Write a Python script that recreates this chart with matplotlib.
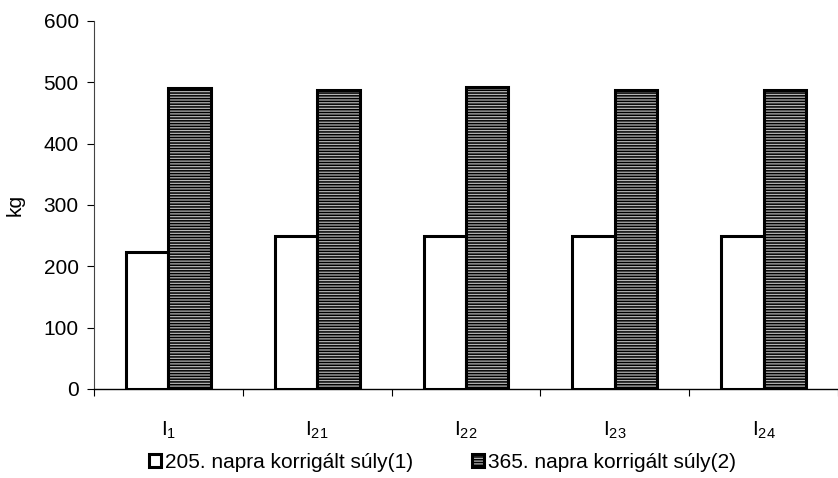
import matplotlib
matplotlib.use('Agg')
import matplotlib.pyplot as plt
import numpy as np

plt.rcParams.update({
    'font.family': ['Liberation Sans', 'DejaVu Sans'],
    'font.size': 15,
    'mathtext.fontset': 'custom',
    'mathtext.rm': 'Liberation Sans',
    'mathtext.it': 'Liberation Sans',
    'mathtext.bf': 'Liberation Sans:bold',
    'hatch.linewidth': 1.1,
    'hatch.color': 'black',
})

# data
categories = [r'$\mathregular{I_{1}}$', r'$\mathregular{I_{21}}$', r'$\mathregular{I_{22}}$',
              r'$\mathregular{I_{23}}$', r'$\mathregular{I_{24}}$']
weight_205 = [223, 250, 250, 250, 250]
weight_365 = [490, 488, 492, 487, 488]
series_labels = ['205. napra korrigált súly(1)', '365. napra korrigált súly(2)']
y_ticks = [0, 100, 200, 300, 400, 500, 600]

W, H = 838, 478
fig = plt.figure(figsize=(W / 100, H / 100), dpi=100)
# plot area: left spine at x=94, 0 at y=389, 600 at y=21 (pixels)
ax = fig.add_axes([94 / W, 1 - 389 / H, 1 - 94 / W, (389 - 21) / H])

x = np.arange(len(categories))
bw = 0.285
b1 = ax.bar(x - bw / 2, weight_205, bw, color='white', edgecolor='black', linewidth=2.2)
b2 = ax.bar(x + bw / 2, weight_365, bw, color='#b5b5b5', edgecolor='black', linewidth=2.2,
            hatch='------')

ax.set_ylim(0, 600)
ax.set_xlim(-0.5, 4.5 - 5 / 150)
ax.set_yticks(y_ticks)
ax.tick_params(axis='y', direction='out', length=5, width=0.8, pad=6)

# ticks at category boundaries, labels at centers
ax.set_xticks(np.arange(-0.5, 5, 1.0))
ax.set_xticklabels([])
ax.set_xticks(x, minor=True)
ax.set_xticklabels(categories, minor=True, fontsize=15)
ax.tick_params(axis='x', which='major', direction='out', length=5, width=0.8)
ax.tick_params(axis='x', which='minor', length=0, pad=22)

for side in ['top', 'right']:
    ax.spines[side].set_visible(False)
ax.spines['left'].set_linewidth(0.8)
ax.spines['left'].set_color('#444444')
ax.spines['bottom'].set_linewidth(1.0)

ax.set_ylabel('kg', fontsize=15, labelpad=14)

fig.legend([b1, b2], series_labels, loc='center', bbox_to_anchor=(0.528, 1 - 462 / H),
           ncol=2, frameon=False, handlelength=0.6, handleheight=0.6, handletextpad=0.2,
           columnspacing=2.8, fontsize=15)

fig.savefig('out.png', dpi=100)
